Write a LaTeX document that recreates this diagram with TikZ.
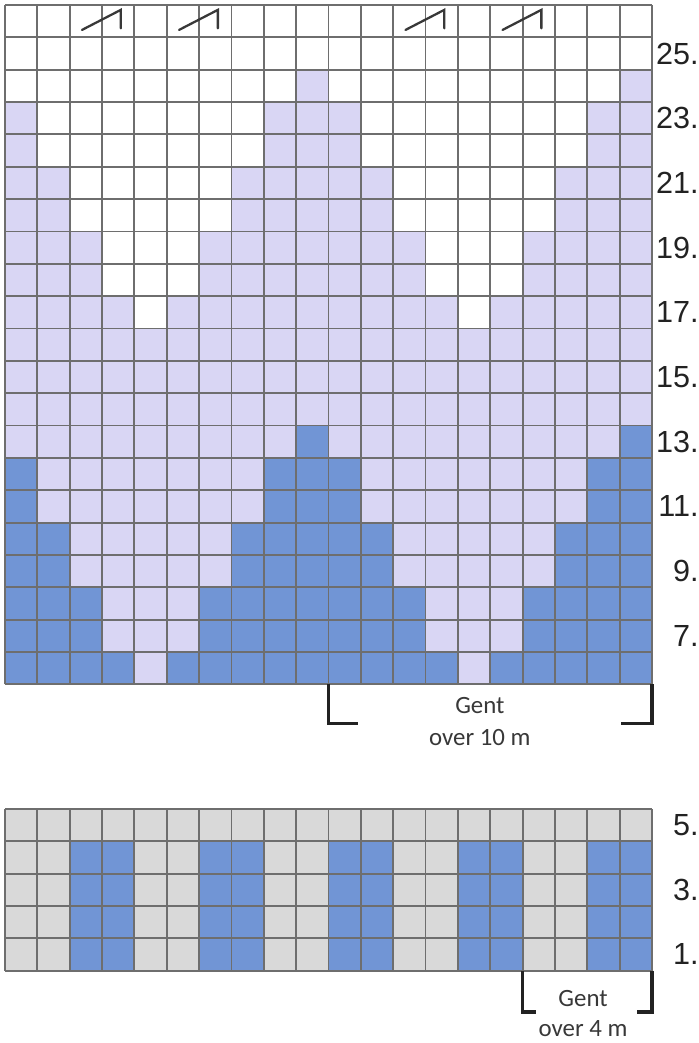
\documentclass[tikz,border=0pt]{standalone}
\usepackage{fontspec}
\setmainfont{Liberation Sans}
\newfontfamily\kcnotefont{Carlito}
\definecolor{kcline}{HTML}{6E6E6E}
\definecolor{kclilac}{HTML}{D9D6F4}
\definecolor{kcblue}{HTML}{7195D5}
\definecolor{kcgray}{HTML}{D9D9D9}
\definecolor{kcink}{HTML}{222222}
\tikzset{
  kcgrid/.style={draw=kcline, line width=1.3pt, step=0.8cm},
  kcslip/.style={draw=kcink!90, line width=1.6pt, line cap=round,
    line join=miter},
  kcbracket/.style={draw=kcink, line width=2.2pt, line join=miter},
  kcrownum/.style={anchor=east, inner sep=0pt, text=kcink,
    font=\fontsize{21.5}{24}\selectfont},
  kcnote/.style={anchor=base, inner sep=0pt, text=kcink!90,
    font=\kcnotefont\fontsize{17.5}{21}\selectfont},
}

\begin{document}
\begin{tikzpicture}[x=0.8cm, y=0.8cm]
\useasboundingbox (-0.155, 0.155) rectangle (21.453, -32.087);

% Upper chart: lilac ground, blue base, white top.
\fill[kclilac] (0,0) rectangle (20,-21);
\fill[kcblue] (0,-13) rectangle (20,-21);
\fill[white] (0,0) rectangle (20,-2);
\foreach \dx/\dy/\col in {0/0/white, 10/0/white, 0/-11/kclilac, 10/-11/kclilac}
  \fill[\col, shift={(\dx,\dy)}]
    (0,-2) -- (9,-2) -- (9,-3) -- (8,-3) -- (8,-5) -- (7,-5) -- (7,-7)
    -- (6,-7) -- (6,-9) -- (5,-9) -- (5,-10) -- (4,-10) -- (4,-9)
    -- (3,-9) -- (3,-7) -- (2,-7) -- (2,-5) -- (1,-5) -- (1,-3)
    -- (0,-3) -- cycle;
\draw[kcgrid] (0,-21) grid (20,0);

% Slip marks in the top row.
\foreach \c in {2,5,12,15}
  \draw[kcslip] (\c+0.38,-0.77) -- (\c+1.58,-0.15) -- (\c+1.58,-0.72);

% Row numbers.
\foreach \n [count=\i] in {25,23,...,7}
  \node[kcrownum] (row\n) at (21.45,-2*\i+0.5) {\n.};

% Repeat of 10 stitches.
\coordinate (g10l) at (10,-21);
\coordinate (g10r) at (20,-21);
\draw[kcbracket] (g10l) -- ++(0,-1.2) -- ++(0.9,0);
\draw[kcbracket] (g10r) -- ++(0,-1.2) -- ++(-0.97,0);
\node[kcnote] (gent10) at (14.68,-21.89) {Gent};
\node[kcnote] (over10) at (14.68,-22.9) {over 10 m};

% Lower chart: grey ground with blue stripes.
\begin{scope}[shift={(0,-29.85)}]
\fill[kcgray] (0,0) rectangle (20,5);
\foreach \c in {2,6,10,14,18}
  \fill[kcblue] (\c,0) rectangle (\c+2,4);
\draw[kcgrid] (0,0) grid (20,5);
\foreach \n/\y in {5/4.5, 3/2.5, 1/0.5}
  \node[kcrownum] (low\n) at (21.45,\y) {\n.};

% Repeat of 4 stitches.
\coordinate (g4l) at (16,0);
\coordinate (g4r) at (20,0);
\draw[kcbracket] (g4l) -- ++(0,-1.28) -- ++(0.4,0);
\draw[kcbracket] (g4r) -- ++(0,-1.28) -- ++(-0.45,0);
\node[kcnote] (gent4) at (17.87,-1.11) {Gent};
\node[kcnote] (over4) at (17.87,-2.04) {over 4 m};
\end{scope}

\end{tikzpicture}
\end{document}
